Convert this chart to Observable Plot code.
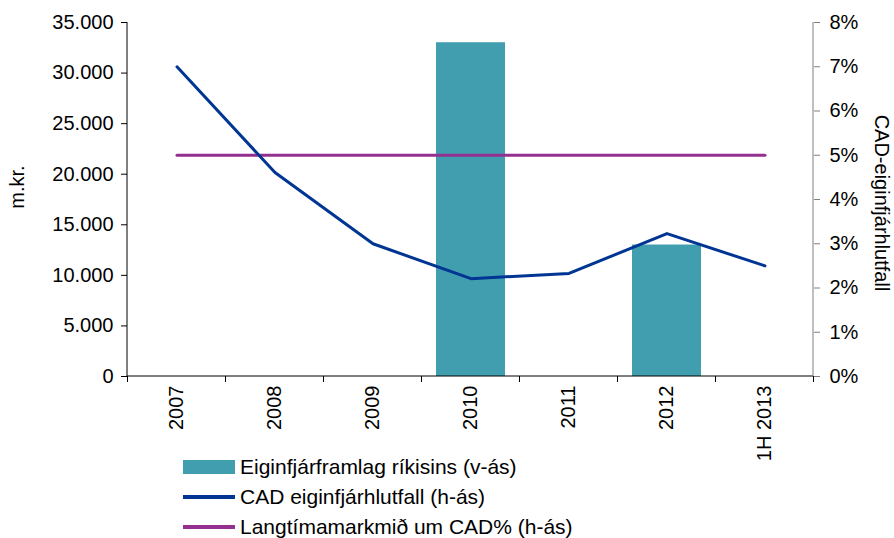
<!DOCTYPE html>
<html><head><meta charset="utf-8">
<script src="https://cdn.jsdelivr.net/npm/d3@7"></script>
<script src="https://cdn.jsdelivr.net/npm/@observablehq/plot@0.6"></script>
<style>
body{margin:0;background:#fff;font-family:"Liberation Sans",Arial,sans-serif;}
#legend{margin-left:183px;font-size:21px;color:#000;}
.row{display:flex;align-items:center;height:30px;}
.sw{width:52px;margin-right:5px;}
</style></head>
<body><div id="chart"></div><div id="legend"></div>
<script>
const categories = ["2007","2008","2009","2010","2011","2012","1H 2013"];
const contribution = [null,null,null,33000,null,13000,null]; // m.kr. (left axis)
const cadRatio = [7.0,4.61,3.0,2.21,2.33,3.23,2.5];          // % (right axis)
const cadTarget = [5,5,5,5,5,5,5];                           // % (right axis)
const leftTicks = [0,5000,10000,15000,20000,25000,30000,35000];
const rightTicks = [0,1,2,3,4,5,6,7,8];
const seriesNames = ["Eiginfjárframlag ríkisins (v-ás)","CAD eiginfjárhlutfall (h-ás)","Langtímamarkmið um CAD% (h-ás)"];
const colors = ["#419EAF","#003594","#93308F"];

const k = 35000/8; // right axis % -> left scale units
const bars = categories.map((c,i)=>({c, v:contribution[i]})).filter(d=>d.v!=null);
const line1 = categories.map((c,i)=>({c, v:cadRatio[i]*k}));
const line2 = categories.map((c,i)=>({c, v:cadTarget[i]*k}));
const fmt = d3.formatLocale({decimal:",",thousands:".",grouping:[3],currency:["",""]}).format(",d");

const chart = Plot.plot({
  width:894, height:452,
  marginLeft:127, marginRight:81, marginTop:22, marginBottom:76,
  style:{fontFamily:"Liberation Sans, Arial, sans-serif", fontSize:"20px", color:"#000", overflow:"visible"},
  x:{domain:categories, paddingInner:0.3, paddingOuter:0.15},
  y:{domain:[0,35000]},
  marks:[
    Plot.barY(bars,{x:"c",y:"v",fill:colors[0]}),
    Plot.line(line2,{x:"c",y:"v",stroke:colors[2],strokeWidth:3}),
    Plot.line(line1,{x:"c",y:"v",stroke:colors[1],strokeWidth:3}),
    Plot.axisY({anchor:"left",ticks:leftTicks,tickFormat:fmt,tickSize:6,tickPadding:8,label:null}),
    Plot.axisY({anchor:"right",ticks:rightTicks.map(d=>d*k),tickFormat:d=>Math.round(d/k)+"%",tickSize:6,tickPadding:10,label:null,stroke:"#808080"}),
    Plot.axisX({tickRotate:-90,tickSize:0,tickPadding:9,label:null}),
    (index,scales,values,dims)=>{
      const svg=d3.create("svg:g");
      const x=scales.x, y=scales.y;
      const step=x.step(), bw=x.bandwidth();
      const y0=y(0), yTop=y(35000);
      const xl=dims.marginLeft, xr=dims.width-dims.marginRight;
      svg.append("line").attr("x1",xl).attr("x2",xr).attr("y1",y0).attr("y2",y0).attr("stroke","#000");
      svg.append("line").attr("x1",xl).attr("x2",xl).attr("y1",yTop).attr("y2",y0).attr("stroke","#000");
      svg.append("line").attr("x1",xr).attr("x2",xr).attr("y1",yTop).attr("y2",y0).attr("stroke","#808080");
      const bounds=categories.map(c=>x(c)-(step-bw)/2).concat([x(categories[categories.length-1])+bw+(step-bw)/2]);
      bounds.forEach(b=>svg.append("line").attr("x1",b).attr("x2",b).attr("y1",y0).attr("y2",y0+6).attr("stroke","#000"));
      svg.append("text").attr("transform",`translate(24,${(yTop+y0)/2-12}) rotate(-90)`).attr("text-anchor","middle").text("m.kr.");
      svg.append("text").attr("transform",`translate(875,${(yTop+y0)/2+4}) rotate(90)`).attr("text-anchor","middle").text("CAD-eiginfjárhlutfall");
      return svg.node();
    }
  ]
});
document.getElementById("chart").appendChild(chart);

const lg=document.getElementById("legend");
seriesNames.forEach((n,i)=>{
  const r=document.createElement("div");r.className="row";
  const s=document.createElement("div");s.className="sw";
  s.style.height=i===0?"14px":"4px";s.style.background=colors[i];
  const t=document.createElement("span");t.textContent=n;
  r.appendChild(s);r.appendChild(t);lg.appendChild(r);
});
</script></body></html>
